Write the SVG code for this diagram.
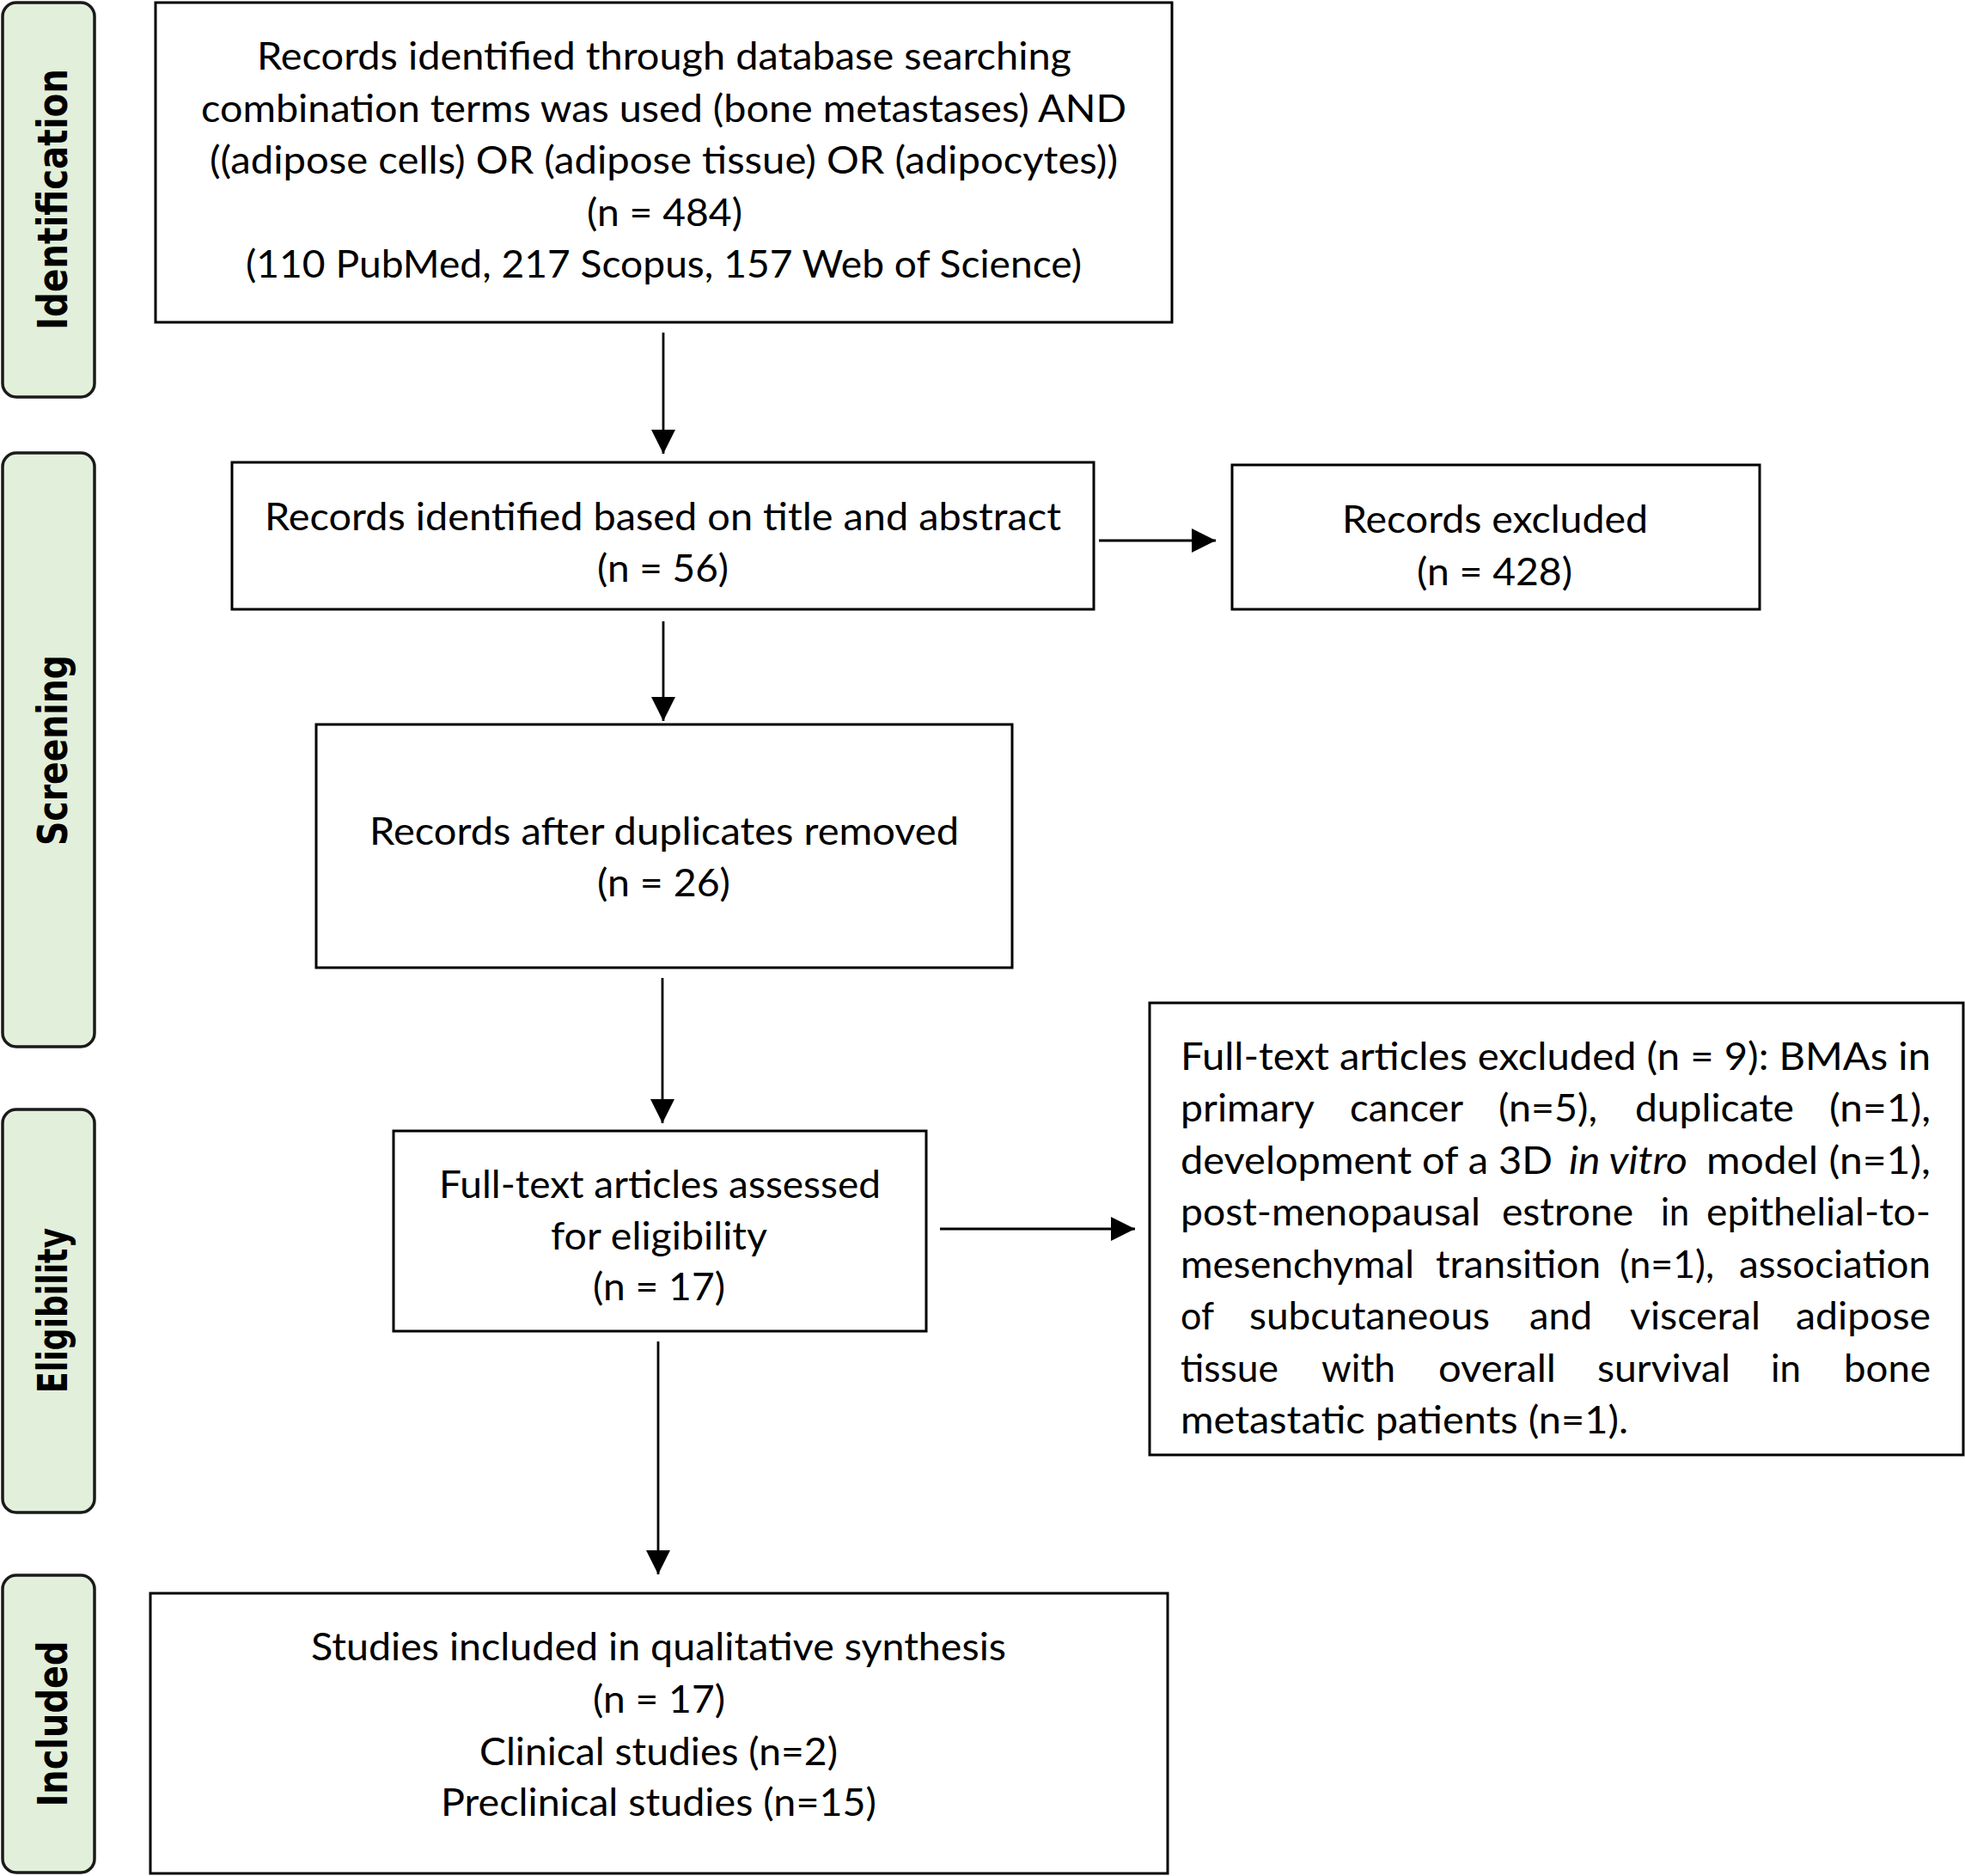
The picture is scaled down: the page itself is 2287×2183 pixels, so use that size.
<svg xmlns="http://www.w3.org/2000/svg" width="2287" height="2183" viewBox="0 0 2287 2183">
<defs>
<style>
.lbl{fill:#e2efda;stroke:#1a1a1a;stroke-width:3.5}
.lt{font-family:"DejaVu Sans","Liberation Sans",sans-serif;font-weight:bold;font-size:48px;fill:#000;text-anchor:middle}
.box{fill:#fff;stroke:#000;stroke-width:3}
.t{font-family:Lato,"Liberation Sans",sans-serif;font-size:45px;fill:#000}
.c{text-anchor:middle}
.conn{stroke:#000;stroke-width:2.8;fill:none;marker-end:url(#ah)}
</style>
<marker id="ah" markerUnits="userSpaceOnUse" markerWidth="28" markerHeight="28" refX="27" refY="13.5" orient="auto" viewBox="0 0 27 27">
<path d="M0,0 L27,13.5 L0,27 Z" fill="#000"/>
</marker>
</defs>
<rect width="2287" height="2183" fill="#fff"/>

<g id="stage-identification">
<rect class="lbl" x="3" y="3" width="107" height="459" rx="16"/>
<text class="lt" transform="translate(78,232) rotate(-90)" textLength="304" lengthAdjust="spacingAndGlyphs">Identification</text>
</g>
<g id="stage-screening">
<rect class="lbl" x="3" y="527" width="107" height="691" rx="16"/>
<text class="lt" transform="translate(78,873) rotate(-90)" textLength="222" lengthAdjust="spacingAndGlyphs">Screening</text>
</g>
<g id="stage-eligibility">
<rect class="lbl" x="3" y="1291" width="107" height="469" rx="16"/>
<text class="lt" transform="translate(78,1525) rotate(-90)" textLength="192" lengthAdjust="spacingAndGlyphs">Eligibility</text>
</g>
<g id="stage-included">
<rect class="lbl" x="3" y="1833" width="107" height="346" rx="16"/>
<text class="lt" transform="translate(78,2006) rotate(-90)" textLength="193" lengthAdjust="spacingAndGlyphs">Included</text>
</g>

<g id="node-identified">
<rect class="box" x="181" y="3" width="1183" height="372"/>
<text class="t c" x="773" y="81" textLength="948" lengthAdjust="spacingAndGlyphs">Records identified through database searching</text>
<text class="t c" x="772.5" y="142" textLength="1077" lengthAdjust="spacingAndGlyphs">combination terms was used (bone metastases) AND</text>
<text class="t c" x="772.5" y="202" textLength="1057" lengthAdjust="spacingAndGlyphs">((adipose cells) OR (adipose tissue) OR (adipocytes))</text>
<text class="t c" x="773.5" y="263" textLength="181" lengthAdjust="spacingAndGlyphs">(n = 484)</text>
<text class="t c" x="772.5" y="323" textLength="973" lengthAdjust="spacingAndGlyphs">(110 PubMed, 217 Scopus, 157 Web of Science)</text>
</g>

<g id="node-title-abstract">
<rect class="box" x="270" y="538" width="1003" height="171"/>
<text class="t c" x="771.5" y="617" textLength="927" lengthAdjust="spacingAndGlyphs">Records identified based on title and abstract</text>
<text class="t c" x="771.5" y="677" textLength="153" lengthAdjust="spacingAndGlyphs">(n = 56)</text>
</g>

<g id="node-excluded">
<rect class="box" x="1434" y="541" width="614" height="168"/>
<text class="t c" x="1740" y="620" textLength="356" lengthAdjust="spacingAndGlyphs">Records excluded</text>
<text class="t c" x="1739.5" y="681" textLength="181" lengthAdjust="spacingAndGlyphs">(n = 428)</text>
</g>

<g id="node-duplicates">
<rect class="box" x="368" y="843" width="810" height="283"/>
<text class="t c" x="773" y="983" textLength="686" lengthAdjust="spacingAndGlyphs">Records after duplicates removed</text>
<text class="t c" x="772.5" y="1043" textLength="155" lengthAdjust="spacingAndGlyphs">(n = 26)</text>
</g>

<g id="node-fulltext">
<rect class="box" x="458" y="1316" width="620" height="233"/>
<text class="t c" x="768" y="1394" textLength="514" lengthAdjust="spacingAndGlyphs">Full-text articles assessed</text>
<text class="t c" x="767" y="1454" textLength="252" lengthAdjust="spacingAndGlyphs">for eligibility</text>
<text class="t c" x="767" y="1513" textLength="154" lengthAdjust="spacingAndGlyphs">(n = 17)</text>
</g>

<g id="node-fulltext-excluded">
<rect class="box" x="1338" y="1167" width="947" height="526"/>
<text class="t" x="1374" y="1245" textLength="873" lengthAdjust="spacingAndGlyphs">Full-text articles excluded (n = 9): BMAs in</text>
<text class="t" y="1305"><tspan x="1374" textLength="156" lengthAdjust="spacingAndGlyphs">primary</tspan><tspan x="1571" textLength="132" lengthAdjust="spacingAndGlyphs">cancer</tspan><tspan x="1744" textLength="115" lengthAdjust="spacingAndGlyphs">(n=5),</tspan><tspan x="1903" textLength="185" lengthAdjust="spacingAndGlyphs">duplicate</tspan><tspan x="2129" textLength="118" lengthAdjust="spacingAndGlyphs">(n=1),</tspan></text>
<text class="t" y="1366"><tspan x="1374" textLength="433" lengthAdjust="spacingAndGlyphs">development of a 3D</tspan><tspan x="1826" font-style="italic" textLength="138" lengthAdjust="spacingAndGlyphs">in vitro</tspan><tspan x="1986" textLength="261" lengthAdjust="spacingAndGlyphs">model (n=1),</tspan></text>
<text class="t" y="1426"><tspan x="1374" textLength="349" lengthAdjust="spacingAndGlyphs">post-menopausal</tspan><tspan x="1748" textLength="153" lengthAdjust="spacingAndGlyphs">estrone</tspan><tspan x="1933" textLength="33" lengthAdjust="spacingAndGlyphs">in</tspan><tspan x="1986" textLength="261" lengthAdjust="spacingAndGlyphs">epithelial-to-</tspan></text>
<text class="t" y="1487"><tspan x="1374" textLength="272" lengthAdjust="spacingAndGlyphs">mesenchymal</tspan><tspan x="1671" textLength="192" lengthAdjust="spacingAndGlyphs">transition</tspan><tspan x="1885" textLength="110" lengthAdjust="spacingAndGlyphs">(n=1),</tspan><tspan x="2024" textLength="223" lengthAdjust="spacingAndGlyphs">association</tspan></text>
<text class="t" y="1547"><tspan x="1374" textLength="39" lengthAdjust="spacingAndGlyphs">of</tspan><tspan x="1454" textLength="280" lengthAdjust="spacingAndGlyphs">subcutaneous</tspan><tspan x="1780" textLength="73" lengthAdjust="spacingAndGlyphs">and</tspan><tspan x="1897" textLength="152" lengthAdjust="spacingAndGlyphs">visceral</tspan><tspan x="2090" textLength="157" lengthAdjust="spacingAndGlyphs">adipose</tspan></text>
<text class="t" y="1608"><tspan x="1374" textLength="114" lengthAdjust="spacingAndGlyphs">tissue</tspan><tspan x="1538" textLength="86" lengthAdjust="spacingAndGlyphs">with</tspan><tspan x="1674" textLength="137" lengthAdjust="spacingAndGlyphs">overall</tspan><tspan x="1859" textLength="155" lengthAdjust="spacingAndGlyphs">survival</tspan><tspan x="2061" textLength="35" lengthAdjust="spacingAndGlyphs">in</tspan><tspan x="2146" textLength="101" lengthAdjust="spacingAndGlyphs">bone</tspan></text>
<text class="t" x="1374" y="1668" textLength="521" lengthAdjust="spacingAndGlyphs">metastatic patients (n=1).</text>
</g>

<g id="node-included">
<rect class="box" x="175" y="1854" width="1184" height="326"/>
<text class="t c" x="766.5" y="1932" textLength="809" lengthAdjust="spacingAndGlyphs">Studies included in qualitative synthesis</text>
<text class="t c" x="767" y="1993" textLength="154" lengthAdjust="spacingAndGlyphs">(n = 17)</text>
<text class="t c" x="766.5" y="2054" textLength="417" lengthAdjust="spacingAndGlyphs">Clinical studies (n=2)</text>
<text class="t c" x="766.5" y="2113" textLength="507" lengthAdjust="spacingAndGlyphs">Preclinical studies (n=15)</text>
</g>

<g id="connectors">
<line class="conn" x1="772" y1="387" x2="772" y2="528"/>
<line class="conn" x1="1279" y1="629" x2="1415" y2="629"/>
<line class="conn" x1="772" y1="723" x2="772" y2="839"/>
<line class="conn" x1="771" y1="1138" x2="771" y2="1307"/>
<line class="conn" x1="1094" y1="1430" x2="1321" y2="1430"/>
<line class="conn" x1="766" y1="1561" x2="766" y2="1832"/>
</g>
</svg>
